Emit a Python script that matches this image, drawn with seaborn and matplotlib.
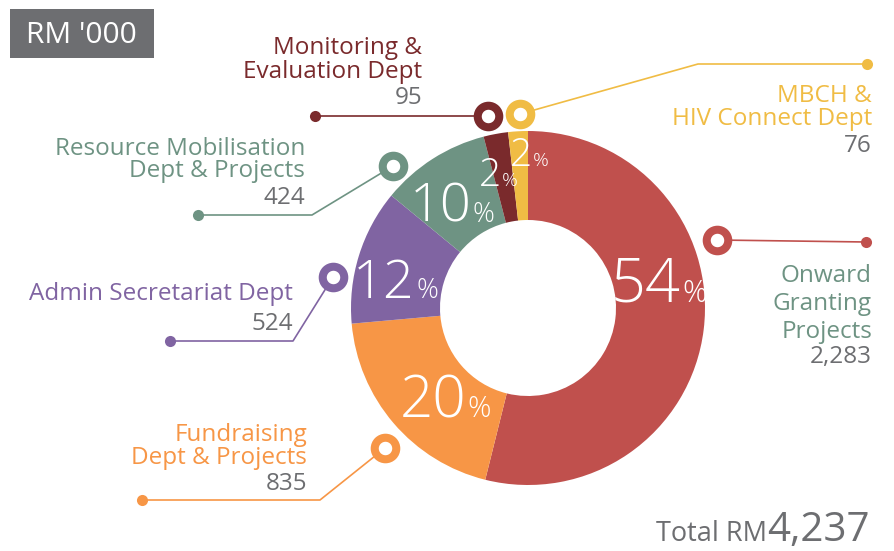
import numpy as np
import matplotlib.pyplot as plt
import seaborn as sns
from matplotlib.patches import Rectangle

W, H = 894, 551

# data
depts = ["Onward\nGranting\nProjects", "Fundraising\nDept & Projects",
         "Admin Secretariat Dept", "Resource Mobilisation\nDept & Projects",
         "Monitoring &\nEvaluation Dept", "MBCH &\nHIV Connect Dept"]
amounts = [2283, 835, 524, 424, 95, 76]
colors = ["#C0504D", "#F79646", "#8064A2", "#6E9383", "#7A2A2C", "#F0BC44"]
label_colors = ["#6E9383", "#F79646", "#8064A2", "#6E9383", "#7A2A2C", "#F0BC44"]
unit = "RM '000"

total = sum(amounts)
pcts = [round(100 * a / total) for a in amounts]

GREY = "#6D6E71"
FONT = ["Open Sans", "DejaVu Sans"]

sns.set_theme(style="white")
plt.rcParams["font.family"] = FONT

fig = plt.figure(figsize=(W / 100, H / 100), dpi=100)
ax = fig.add_axes([0, 0, 1, 1])


def Y(y):
    return H - y


# donut
ax.pie(amounts, colors=colors, startangle=90, counterclock=False,
       radius=177, center=(528, Y(308)),
       wedgeprops=dict(width=89, linewidth=0))

# percent labels (x = split between number and %, y = baseline)
pct_pos = [(681, 302), (466, 417), (415, 298), (472, 222), (501, 186), (532, 166)]
pct_size = [44, 42, 39, 39, 28, 28]
for p, (x, y), s in zip(pcts, pct_pos, pct_size):
    ax.text(x, Y(y), str(p), color="white", fontsize=s, fontweight="light",
            ha="right", va="baseline")
    ax.text(x + 1, Y(y), "%", color="white", fontsize=s * 0.5, fontweight="light",
            ha="left", va="baseline")

# leader lines: ring end first, dot end last
leaders = [
    [(717, 240), (866, 242)],
    [(385, 448), (320, 500), (142, 500)],
    [(333, 277), (293, 341), (170, 341)],
    [(393, 166), (312, 215), (198, 215)],
    [(488, 116), (315, 116)],
    [(520, 114), (698, 64), (867, 64)],
]
for pts, c in zip(leaders, colors):
    xs = [p[0] for p in pts]
    ys = [Y(p[1]) for p in pts]
    ax.plot(xs, ys, color=c, lw=1.2, zorder=3, solid_capstyle="butt")
    ax.plot(xs[-1], ys[-1], "o", color=c, ms=8, mew=0, zorder=4)
    ax.plot(xs[0], ys[0], "o", mfc="white", mec=c, ms=15.5, mew=5.8, zorder=5)

# category labels: right edge, first baseline, line pitch, gap to value
label_pos = [(872, 282, 28, 25), (307, 441, 23, 26), (293, 300, 30, 30),
             (305, 155, 22, 27), (422, 54, 24, 26), (872, 102, 23, 27)]
for name, amt, c, (x, y0, pitch, gap) in zip(depts, amounts, label_colors, label_pos):
    lines = name.split("\n")
    for i, ln in enumerate(lines):
        ax.text(x, Y(y0 + i * pitch), ln, color=c, fontsize=17.5,
                ha="right", va="baseline")
    ax.text(x, Y(y0 + (len(lines) - 1) * pitch + gap), f"{amt:,}", color=GREY,
            fontsize=17.5, ha="right", va="baseline")

# unit box
ax.add_patch(Rectangle((10, Y(58)), 144, 49, color=GREY, lw=0, zorder=2))
ax.text(81, Y(43), unit, color="white", fontsize=21.5, ha="center",
        va="baseline", zorder=3)

# total
ax.text(767, Y(541), "Total RM", color=GREY, fontsize=19.5, ha="right", va="baseline")
ax.text(767, Y(541), f"{total:,}", color=GREY, fontsize=29, ha="left", va="baseline")

ax.set_xlim(0, W)
ax.set_ylim(0, H)
ax.set_aspect("equal")
ax.axis("off")

fig.savefig("out.png", dpi=100, facecolor="white")
